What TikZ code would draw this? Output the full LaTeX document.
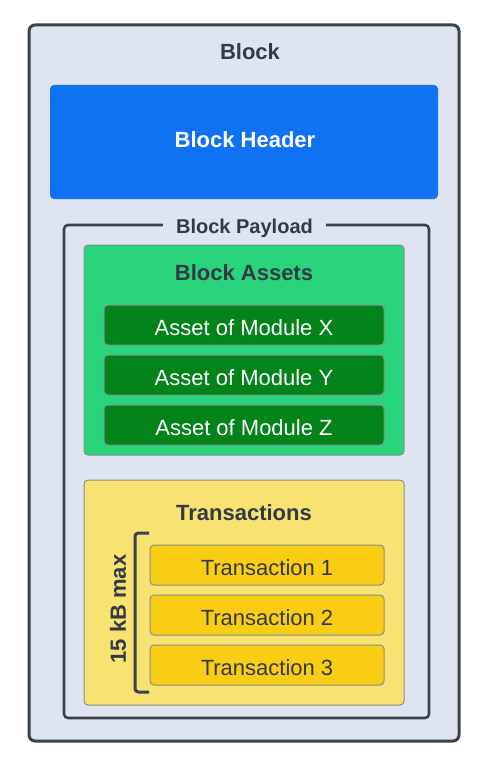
\documentclass[tikz,border=0pt]{standalone}
\usepackage{fontspec}
\setmainfont{Liberation Sans}

\definecolor{blockbg}{HTML}{DFE5F0}
\definecolor{edge}{HTML}{3A414A}
\definecolor{headerblue}{HTML}{1071F2}
\definecolor{assetgreen}{HTML}{2AD47D}
\definecolor{modgreen}{HTML}{03841A}
\definecolor{txyellow}{HTML}{F8E271}
\definecolor{txgold}{HTML}{FACD15}
\definecolor{ink}{HTML}{333A44}

\tikzset{every picture/.style={line width=0.75pt}}
\tikzset{
  lbl/.style={font=\fontsize{16.5}{19.8}\selectfont, text=ink, inner sep=0.75pt},
  title/.style={lbl, font=\fontsize{16.5}{19.8}\selectfont\bfseries},
  panel/.style={draw=edge!60, rounded corners=3pt},
  itembox/.style={lbl, panel, minimum width=210pt, minimum height=30pt, text height=15.6pt, text depth=0pt},
}

\begin{document}
\begin{tikzpicture}[x=0.75pt,y=0.75pt,yscale=-1,xscale=1]

\useasboundingbox (0,0) rectangle (492,767);

\draw  [draw=edge, fill=blockbg, line width=2.25pt, rounded corners=4.5pt]  (29,25) rectangle (459,741) ;
\fill  [headerblue, rounded corners=3pt]  (50,85) rectangle (438,199) ;
\draw  [draw=edge, line width=1.9pt, rounded corners=3pt]  (64,225) rectangle (429,718) ;
\draw  [panel, fill=assetgreen]  (84,245) rectangle (404,455) ;
\draw  [panel, fill=txyellow]  (84,480) rectangle (404,705) ;

\node (block) [title] at (250,52) {Block};
\node (header) [title, text=white] at (245,140) {Block Header};
\node (payload) [title, font=\fontsize{15}{18}\selectfont\bfseries, fill=blockbg, inner xsep=9.5pt] at (244.5,228.5) {Block Payload};
\node (assets) [title] at (244,273) {Block Assets};
\node (modx) [itembox, fill=modgreen, text=white] at (244,325) {Asset of Module X};
\node (mody) [itembox, fill=modgreen, text=white] at (244,375) {Asset of Module Y};
\node (modz) [itembox, fill=modgreen, text=white] at (244,425) {Asset of Module Z};
\node (txs) [title] at (244,513) {Transactions};
\node (tx1) [itembox, fill=txgold, minimum width=175.5pt] at (267,565) {Transaction 1};
\node (tx2) [itembox, fill=txgold, minimum width=175.5pt] at (267,615) {Transaction 2};
\node (tx3) [itembox, fill=txgold, minimum width=175.5pt] at (267,665) {Transaction 3};

% size bracket
\coordinate (bt) at (149,533) ;
\coordinate (bb) at (149,692) ;
\draw  [draw=edge, line width=2.25pt, rounded corners=2.5pt]  (bt) -- (135,533) -- (135,692) -- (bb) ;
\node (limit) [title, rotate=90] at (118,609) {15 kB max};

\end{tikzpicture}
\end{document}
